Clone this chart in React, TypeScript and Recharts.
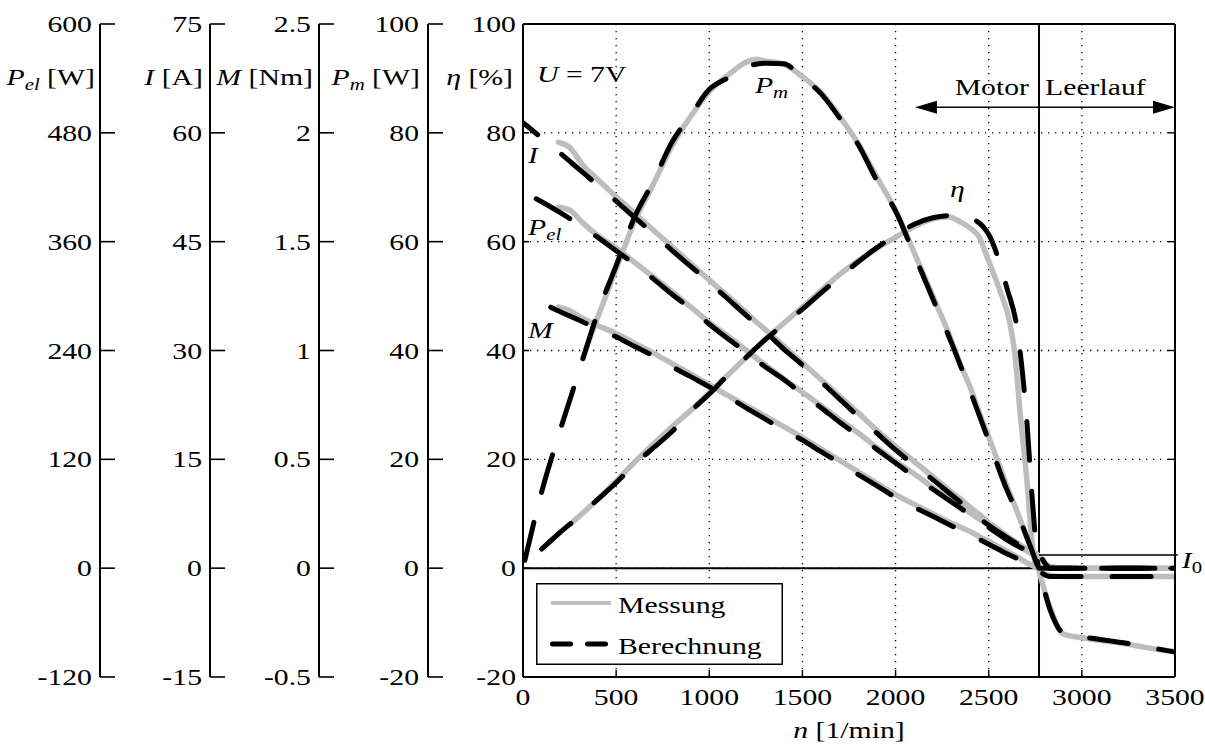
import React from "react";
import {
  CartesianGrid,
  ComposedChart,
  Legend,
  Line,
  ReferenceDot,
  ReferenceLine,
  XAxis,
  YAxis,
} from "recharts";

const FONT = "'Liberation Serif', 'Times New Roman', serif";
const FS = 24;
const STRETCH = 1.24;
const GREY = "#bdbdbd";
const CALC_DASH = "39 31";

// motor model (Berechnung), n in 1/min
const calcSpeed = [
  0, 100, 200, 300, 400, 500, 600, 700, 800, 900, 1000, 1100, 1200, 1300, 1400,
  1500, 1600, 1700, 1800, 1900, 2000, 2100, 2200, 2300, 2400, 2500, 2600, 2650,
  2700, 2740, 2770, 2830, 2900, 3000, 3100, 3200, 3300, 3400, 3500,
];
const calcCurrent = [
  61.4, 59.3, 57.2, 55.0, 52.8, 50.6, 48.3, 46.1, 43.8, 41.6, 39.4, 37.1, 34.8,
  32.6, 30.2, 28.0, 25.7, 23.3, 20.9, 18.6, 16.3, 14.2, 12.2, 10.1, 8.0, 5.9, 4.2,
  3.4, 2.6, 2.2, 1.8, 0, 0, 0, 0, 0, 0, 0, 0,
];
const calcElPower = [
  415, 404, 392, 379, 365, 350, 335, 319, 302, 286, 269, 253, 238, 222, 208, 192,
  177, 161, 146, 131, 116, 101, 87, 73, 59, 45, 31, 25, 20, 16, 13, 0, 0, 0, 0, 0,
  0, 0, 0,
];
const calcTorque = [
  1.263, 1.22, 1.178, 1.14, 1.1, 1.063, 1.018, 0.975, 0.925, 0.88, 0.833, 0.788,
  0.735, 0.685, 0.635, 0.588, 0.535, 0.483, 0.43, 0.378, 0.325, 0.28, 0.238,
  0.195, 0.153, 0.11, 0.065, 0.045, 0.02, 0, -0.015, -0.038, -0.038, -0.038,
  -0.038, -0.038, -0.038, -0.038, -0.038,
];
const calcMechPower = [
  0, 14, 25.4, 36.1, 46.8, 55.6, 64.6, 71.1, 78.3, 83.2, 88, 90.1, 92.1, 92.8,
  92.7, 90.1, 87.2, 82.7, 77.8, 71.2, 65.6, 57.6, 49.5, 41.4, 32.6, 23.4, 14.2,
  10.4, 6.1, 2.5, -0.5, -7.7, -11.9, -12.6, -13.1, -13.6, -14.1, -14.8, -15.4,
];
const calcEfficiency = [
  null, 3.5, 6.6, 9.5, 12.6, 15.7, 19.1, 22.1, 25.1, 28.8, 32, 35.5, 38.8, 42,
  44.8, 47.6, 50.6, 53.5, 56.3, 58.9, 61.2, 63.2, 64.4, 64.8, 64.3, 61.3, 51.2,
  44.5, 29, 10, 0, 0, 0, 0, 0, 0, 0, 0, 0,
];

// measurement (Messung)
const measSpeed = [
  190, 250, 320, 400, 500, 600, 700, 800, 900, 1000, 1100, 1200, 1250, 1300,
  1400, 1500, 1600, 1700, 1800, 1900, 2000, 2100, 2200, 2280, 2350, 2400, 2450,
  2490, 2560, 2610, 2640, 2670, 2705, 2732, 2760, 2790, 2830, 2900, 3000, 3100,
  3200, 3300, 3400, 3500,
];
const measCurrent = [
  58.7, 58.0, 55.6, 53.6, 51.2, 48.9, 46.6, 44.3, 42.0, 39.7, 37.5, 35.2, 34.0,
  32.9, 30.6, 28.3, 26.0, 23.7, 21.4, 19.0, 16.8, 14.7, 12.6, 10.9, 9.5, 8.4, 7.4,
  6.5, 5.2, 4.2, 3.7, 3.2, 2.6, 2.3, 1.9, 0.9, 0.2, 0, 0, 0, 0, 0, 0, 0,
];
const measElPower = [
  398, 395, 381, 367, 353, 337, 321, 305, 288, 271, 256, 240, 232, 224, 209, 194,
  179, 164, 149, 133, 118, 104, 89, 78, 68, 61, 54, 49, 39, 32, 28, 23, 19, 16,
  14, 7, 2, 0, 0, 0, 0, 0, 0, 0,
];
const measTorque = [
  1.2, 1.183, 1.148, 1.115, 1.078, 1.033, 0.988, 0.94, 0.893, 0.843, 0.793, 0.745,
  0.723, 0.698, 0.65, 0.6, 0.548, 0.495, 0.443, 0.39, 0.338, 0.293, 0.25, 0.215,
  0.188, 0.168, 0.145, 0.128, 0.095, 0.073, 0.058, 0.043, 0.025, 0.013, 0, -0.02,
  -0.033, -0.038, -0.038, -0.038, -0.038, -0.038, -0.038, -0.038,
];
const measMechPower = [
  null, null, 38.6, 46, 55, 63.8, 70.6, 77.6, 83, 87.6, 90.6, 93.0, 93.5, 93.2,
  92.6, 90.3, 87.4, 83, 78, 71.8, 65.8, 58, 50, 43.6, 37.3, 33.3, 28.5, 25, 18.6,
  14, 11.5, 8.8, 5.6, 3.2, 0.6, -3, -7.3, -12.1, -12.8, -13.3, -13.7, -14.3,
  -14.9, -15.3,
];
const measEfficiency = [
  null, 8.0, 10.1, 12.6, 16, 19.5, 22.8, 26, 29, 32.3, 35.5, 38.8, 40.4, 42, 45,
  48, 51, 54, 56.5, 58.8, 60.8, 62.8, 64.2, 64.6, 63.6, 62.5, 60.8, 57.3, 51,
  45.6, 39.5, 28, 16.2, 5.1, 0, 0, null, null, null, null, null, null, null, null,
];

const SPEED_TICKS = [0, 500, 1000, 1500, 2000, 2500, 3000, 3500];
const PEL_TICKS = [-120, 0, 120, 240, 360, 480, 600];
const I_TICKS = [-15, 0, 15, 30, 45, 60, 75];
const M_TICKS = [-0.5, 0, 0.5, 1, 1.5, 2, 2.5];
const PM_TICKS = [-20, 0, 20, 40, 60, 80, 100];
const ETA_TICKS = [-20, 0, 20, 40, 60, 80, 100];

const NO_LOAD_SPEED = 2770;
const NO_LOAD_CURRENT = 1.8;
const ARROW_FROM = 2104;
const ARROW_LEVEL = 84.7;

// axis ids: innermost first (they are stacked in this order)
const AX_ETA = "a_eta";
const AX_PM = "b_pm";
const AX_M = "c_m";
const AX_I = "d_i";
const AX_PEL = "e_pel";
const AX_RIGHT = "z_eta";

const LEGEND_ITEMS = [
  { label: "Messung", dashed: false },
  { label: "Berechnung", dashed: true },
];

const calcRows = calcSpeed.map((n, k) => ({
  n,
  i: calcCurrent[k],
  pel: calcElPower[k],
  m: calcTorque[k],
  pm: calcMechPower[k],
  eta: calcEfficiency[k],
}));

const measRows = measSpeed.map((n, k) => ({
  n,
  i: measCurrent[k],
  pel: measElPower[k],
  m: measTorque[k],
  pm: measMechPower[k],
  eta: measEfficiency[k],
}));

function Txt({
  x,
  y,
  anchor = "start",
  children,
}: {
  x: number;
  y: number;
  anchor?: "start" | "middle" | "end";
  children: React.ReactNode;
}) {
  return (
    <text
      transform={`translate(${x} ${y}) scale(${STRETCH} 1)`}
      textAnchor={anchor}
      fontFamily={FONT}
      fontSize={FS}
      fill="#000"
    >
      {children}
    </text>
  );
}

const Sub = ({ s }: { s: string }) => (
  <tspan fontStyle="italic" fontSize={FS * 0.7} dy={5}>
    {s}
  </tspan>
);

const sideTick = (len: number, gap: number) => (props: any) => {
  const { x, y, payload } = props;
  return (
    <g>
      <line x1={x} y1={y} x2={x + len} y2={y} stroke="#000" strokeWidth={1.6} />
      <Txt x={x - gap} y={y + 8} anchor="end">
        {String(payload.value)}
      </Txt>
    </g>
  );
};

const rightTick = (props: any) => {
  const { x, y } = props;
  return <line x1={x} y1={y} x2={x - 7} y2={y} stroke="#000" strokeWidth={1.4} />;
};

const speedTick = (props: any) => {
  const { x, y, payload } = props;
  return (
    <g>
      <line x1={x} y1={y} x2={x} y2={y - 7} stroke="#000" strokeWidth={1.4} />
      <Txt x={x} y={y + 28} anchor="middle">
        {String(payload.value)}
      </Txt>
    </g>
  );
};

const axisTitle = (content: React.ReactNode, gap: number) => (props: any) => {
  const vb = props.viewBox;
  return (
    <Txt x={vb.x + vb.width - gap} y={vb.y + 61} anchor="end">
      {content}
    </Txt>
  );
};

const speedTitle = (props: any) => {
  const vb = props.viewBox;
  return (
    <Txt x={vb.x + vb.width / 2} y={vb.y + 61} anchor="middle">
      <tspan fontStyle="italic">n</tspan>
      <tspan>{"\u00a0[1/min]"}</tspan>
    </Txt>
  );
};

const arrowShape = (p: any) => {
  const { x1, y1, x2 } = p;
  const head = 22;
  const half = 6.5;
  return (
    <g>
      <line x1={x1 + head - 2} y1={y1} x2={x2 - head + 2} y2={y1} stroke="#000" strokeWidth={1.5} />
      <polygon points={`${x1},${y1} ${x1 + head},${y1 - half} ${x1 + head},${y1 + half}`} fill="#000" />
      <polygon points={`${x2},${y1} ${x2 - head},${y1 - half} ${x2 - head},${y1 + half}`} fill="#000" />
    </g>
  );
};

const i0Shape = (p: any) => (
  <g>
    <line x1={p.x1} y1={p.y1} x2={p.x2} y2={p.y2} stroke="#000" strokeWidth={1.5} />
    <Txt x={p.x2 + 4} y={p.y2 + 13}>
      <tspan fontStyle="italic">I</tspan>
      <tspan fontSize={FS * 0.7} dy={5}>0</tspan>
    </Txt>
  </g>
);

const textAt = (content: React.ReactNode, anchor: "start" | "end" = "start", dx = 0, dy = 0) =>
  (p: any) => (
    <Txt x={p.cx + dx} y={p.cy + dy} anchor={anchor}>
      {content}
    </Txt>
  );

function LegendBox() {
  return (
    <svg width={247} height={82} style={{ display: "block" }}>
      <rect x={0.75} y={0.75} width={245.5} height={80.5} fill="#fff" stroke="#000" strokeWidth={1.5} />
      {LEGEND_ITEMS.map((it, k) => {
        const y = 20 + k * 41;
        return (
          <g key={it.label}>
            <line
              x1={16.5}
              x2={it.dashed ? 69.5 : 73.5}
              y1={y}
              y2={y}
              stroke={it.dashed ? "#000" : GREY}
              strokeWidth={it.dashed ? 5 : 4}
              strokeDasharray={it.dashed ? "18 17" : undefined}
              strokeLinecap="round"
            />
            <Txt x={82} y={y + 9.5}>
              {it.label}
            </Txt>
          </g>
        );
      })}
    </svg>
  );
}

const SERIES = [
  { key: "i", axis: AX_I, offset: 20 },
  { key: "pel", axis: AX_PEL, offset: 55 },
  { key: "m", axis: AX_M, offset: 39 },
  { key: "pm", axis: AX_PM, offset: 62 },
  { key: "eta", axis: AX_ETA, offset: 0 },
];

const sideAxisProps = {
  type: "number" as const,
  interval: 0 as const,
  allowDataOverflow: true,
  tickSize: 0,
  tickMargin: 0,
  tickLine: false,
  axisLine: { stroke: "#000", strokeWidth: 2 },
};

export default function App() {
  return (
    <div
      style={{
        position: "absolute",
        left: 0,
        top: 0,
        width: 1205,
        height: 747,
        background: "#fff",
        fontFamily: FONT,
      }}
    >
      <ComposedChart width={1205} height={747} margin={{ top: 24, right: 0, bottom: 10, left: 8 }}>
        <CartesianGrid
          yAxisId={AX_ETA}
          stroke="#000"
          strokeWidth={1.3}
          strokeDasharray="1.3 5.7"
        />
        <XAxis
          dataKey="n"
          type="number"
          domain={[0, 3500]}
          ticks={SPEED_TICKS}
          interval={0}
          allowDataOverflow
          height={60}
          tickSize={0}
          tickMargin={0}
          tickLine={false}
          axisLine={{ stroke: "#000", strokeWidth: 2 }}
          tick={speedTick}
          label={speedTitle}
        />
        <YAxis
          {...sideAxisProps}
          yAxisId={AX_ETA}
          domain={[-20, 100]}
          ticks={ETA_TICKS}
          width={95}
          tick={sideTick(6, 7)}
          label={axisTitle(
            <>
              <tspan fontStyle="italic">η</tspan>
              <tspan>{"\u00a0[%]"}</tspan>
            </>,
            10
          )}
        />
        <YAxis
          {...sideAxisProps}
          yAxisId={AX_PM}
          domain={[-20, 100]}
          ticks={PM_TICKS}
          width={109}
          tick={sideTick(15, 9)}
          label={axisTitle(
            <>
              <tspan fontStyle="italic">P</tspan>
              <Sub s="m" />
              <tspan dy={-5}>{"\u00a0[W]"}</tspan>
            </>,
            8
          )}
        />
        <YAxis
          {...sideAxisProps}
          yAxisId={AX_M}
          domain={[-0.5, 2.5]}
          ticks={M_TICKS}
          width={109}
          tick={sideTick(15, 8)}
          label={axisTitle(
            <>
              <tspan fontStyle="italic">M</tspan>
              <tspan>{"\u00a0[Nm]"}</tspan>
            </>,
            6
          )}
        />
        <YAxis
          {...sideAxisProps}
          yAxisId={AX_I}
          domain={[-15, 75]}
          ticks={I_TICKS}
          width={110}
          tick={sideTick(15, 8)}
          label={axisTitle(
            <>
              <tspan fontStyle="italic">I</tspan>
              <tspan>{"\u00a0[A]"}</tspan>
            </>,
            7
          )}
        />
        <YAxis
          {...sideAxisProps}
          yAxisId={AX_PEL}
          domain={[-120, 600]}
          ticks={PEL_TICKS}
          width={92}
          tick={sideTick(15, 8)}
          label={axisTitle(
            <>
              <tspan fontStyle="italic">P</tspan>
              <Sub s="el" />
              <tspan dy={-5}>{"\u00a0[W]"}</tspan>
            </>,
            5
          )}
        />
        <YAxis
          {...sideAxisProps}
          yAxisId={AX_RIGHT}
          orientation="right"
          domain={[-20, 100]}
          ticks={ETA_TICKS}
          width={30}
          tick={rightTick}
        />

        <ReferenceLine yAxisId={AX_ETA} y={100} stroke="#000" strokeWidth={2} />
        <ReferenceLine yAxisId={AX_ETA} y={0} stroke="#000" strokeWidth={2} />
        <ReferenceLine yAxisId={AX_ETA} x={NO_LOAD_SPEED} stroke="#000" strokeWidth={2} />

        {SERIES.map((s) => (
          <Line
            key={`meas-${s.key}`}
            data={measRows}
            dataKey={s.key}
            yAxisId={s.axis}
            type="monotone"
            stroke={GREY}
            strokeWidth={5.5}
            strokeLinecap="round"
            strokeLinejoin="round"
            dot={false}
            activeDot={false}
            isAnimationActive={false}
          />
        ))}
        {SERIES.map((s) => (
          <Line
            key={`calc-${s.key}`}
            data={calcRows}
            dataKey={s.key}
            yAxisId={s.axis}
            type="monotone"
            stroke="#000"
            strokeWidth={5}
            strokeDasharray={CALC_DASH}
            strokeDashoffset={s.offset}
            strokeLinecap="round"
            strokeLinejoin="round"
            dot={false}
            activeDot={false}
            isAnimationActive={false}
          />
        ))}

        <ReferenceLine
          yAxisId={AX_I}
          ifOverflow="visible"
          segment={[
            { x: NO_LOAD_SPEED, y: NO_LOAD_CURRENT },
            { x: 3515, y: NO_LOAD_CURRENT },
          ]}
          shape={i0Shape}
        />
        <ReferenceLine
          yAxisId={AX_ETA}
          ifOverflow="visible"
          segment={[
            { x: ARROW_FROM, y: ARROW_LEVEL },
            { x: 3500, y: ARROW_LEVEL },
          ]}
          shape={arrowShape}
        />
        <ReferenceDot
          yAxisId={AX_ETA}
          x={NO_LOAD_SPEED}
          y={ARROW_LEVEL}
          r={1}
          shape={(p: any) => (
            <g>
              <Txt x={p.cx - 10} y={p.cy - 12} anchor="end">Motor</Txt>
              <Txt x={p.cx + 6} y={p.cy - 12}>Leerlauf</Txt>
            </g>
          )}
        />
        <ReferenceDot
          yAxisId={AX_ETA}
          x={75}
          y={89.3}
          r={1}
          shape={textAt(
            <>
              <tspan fontStyle="italic">U</tspan>
              <tspan>{"\u00a0=\u00a07V"}</tspan>
            </>
          )}
        />
        <ReferenceDot
          yAxisId={AX_ETA}
          x={1245}
          y={87.3}
          r={1}
          shape={textAt(
            <>
              <tspan fontStyle="italic">P</tspan>
              <Sub s="m" />
            </>
          )}
        />
        <ReferenceDot
          yAxisId={AX_ETA}
          x={2292}
          y={68.2}
          r={1}
          shape={textAt(<tspan fontStyle="italic">η</tspan>)}
        />
        <ReferenceDot
          yAxisId={AX_ETA}
          x={27}
          y={74.4}
          r={1}
          shape={textAt(<tspan fontStyle="italic">I</tspan>)}
        />
        <ReferenceDot
          yAxisId={AX_ETA}
          x={27}
          y={61.2}
          r={1}
          shape={textAt(
            <>
              <tspan fontStyle="italic">P</tspan>
              <Sub s="el" />
            </>
          )}
        />
        <ReferenceDot
          yAxisId={AX_ETA}
          x={27}
          y={42.3}
          r={1}
          shape={textAt(<tspan fontStyle="italic">M</tspan>)}
        />

        <Legend
          layout="horizontal"
          verticalAlign="middle"
          align="center"
          wrapperStyle={{ left: 536, top: 583, width: 247, height: 82 }}
          content={() => <LegendBox />}
        />
      </ComposedChart>
    </div>
  );
}
